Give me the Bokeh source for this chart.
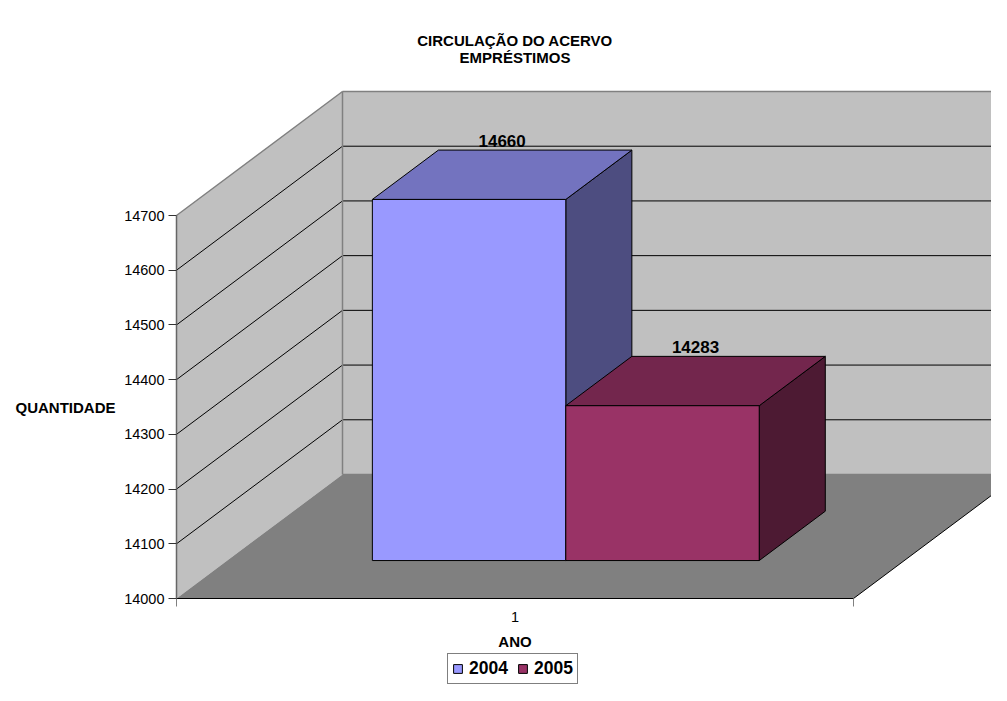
from bokeh.plotting import figure
from bokeh.models import Range1d, FixedTicker, Legend, LegendItem, Label
from bokeh.core.properties import value
from bokeh.embed import file_html
from bokeh.resources import INLINE

# ---------------- data ----------------
TITLE_LINES = ["CIRCULAÇÃO DO ACERVO", "EMPRÉSTIMOS"]
CATEGORIES = ["1"]
SERIES = ["2004", "2005"]
VALUES = [14660, 14283]
Y_TICKS = [14000, 14100, 14200, 14300, 14400, 14500, 14600, 14700]
Y_LABEL = "QUANTIDADE"
X_LABEL = "ANO"

# ---------------- style ----------------
FRONT = ["#9999FF", "#993366"]
TOP = ["#7373BF", "#73264D"]
SIDE = ["#4D4D80", "#4D1A33"]
WALL = "#C0C0C0"
FLOOR = "#808080"
EDGE = "#808080"
FONT = "Liberation Sans"

# ---------------- geometry ----------------
W, H = 991, 685           # canvas (= frame)
ORG_X, ORG_Y = 176, 598   # screen position of (category 0, value 14000)
PX_U = 677.0              # pixels per category width
PX_V = 383.0 / 700.0      # pixels per value unit
DX = 166.0 / PX_U         # depth offset in x units
DY = 124.0 / PX_V         # depth offset in value units
D0, D1 = 0.306, 0.704     # bar depth (fraction of box depth)
GAP = 1.5                 # gap width (Excel 150%)
BASE = Y_TICKS[0]
TOPV = Y_TICKS[-1]


def U(px):   # screen x -> data x (for text placement)
    return (px - ORG_X) / PX_U


def V(py):   # screen y -> data y (for text placement)
    return BASE + (ORG_Y - py) / PX_V


p = figure(frame_width=W, frame_height=H,
           min_border_left=0, min_border_right=0, min_border_top=0, min_border_bottom=0,
           x_range=Range1d(U(0), U(W)), y_range=Range1d(V(H), V(0)),
           output_backend="svg", toolbar_location=None, title=None)
p.outline_line_color = None
p.xgrid.visible = False
p.ygrid.visible = False
p.background_fill_color = "white"
p.border_fill_color = "white"

# walls and floor
p.patches(xs=[[0, 0, DX, DX],
              [DX, DX, 1 + DX, 1 + DX],
              [0, 1, 1 + DX, DX]],
          ys=[[BASE, TOPV, TOPV + DY, BASE + DY],
              [BASE + DY, TOPV + DY, TOPV + DY, BASE + DY],
              [BASE, BASE, BASE + DY, BASE + DY]],
          fill_color=[WALL, WALL, FLOOR], line_color=None)

# gridlines (left wall + back wall)
gv = Y_TICKS[1:-1]
p.segment(x0=[0] * len(gv), y0=gv, x1=[DX] * len(gv), y1=[v + DY for v in gv],
          line_color="black", line_width=1)
p.segment(x0=[DX] * len(gv), y0=[v + DY for v in gv], x1=[1 + DX] * len(gv),
          y1=[v + DY for v in gv], line_color="black", line_width=1)

# box edges
p.segment(x0=[0, DX, DX, DX], y0=[TOPV, BASE + DY, TOPV + DY, BASE + DY],
          x1=[DX, DX, 1 + DX, 1 + DX], y1=[TOPV + DY, TOPV + DY, TOPV + DY, BASE + DY],
          line_color=EDGE, line_width=1.5)
p.segment(x0=[1], y0=[BASE], x1=[1 + DX], y1=[BASE + DY], line_color="black", line_width=1)

# bars
n = len(SERIES)
w = 1.0 / (n + GAP)
front_renderers = []
lab_x, lab_y, lab_t = [], [], []
for i, (s, v) in enumerate(zip(SERIES, VALUES)):
    u0 = GAP * w / 2 + i * w
    u1 = u0 + w
    a0x, a0y = D0 * DX, D0 * DY
    a1x, a1y = D1 * DX, D1 * DY
    p.patch(x=[u1 + a0x, u1 + a0x, u1 + a1x, u1 + a1x],
            y=[BASE + a0y, v + a0y, v + a1y, BASE + a1y],
            fill_color=SIDE[i], line_color="black", line_width=1)
    p.patch(x=[u0 + a0x, u1 + a0x, u1 + a1x, u0 + a1x],
            y=[v + a0y, v + a0y, v + a1y, v + a1y],
            fill_color=TOP[i], line_color="black", line_width=1)
    r = p.patch(x=[u0 + a0x, u1 + a0x, u1 + a0x, u0 + a0x],
                y=[BASE + a0y, BASE + a0y, v + a0y, v + a0y],
                fill_color=FRONT[i], line_color="black", line_width=1)
    front_renderers.append(r)
    lab_x.append((u0 + u1) / 2 + (D0 + D1) / 2 * DX)
    lab_y.append(v + a1y + 9 / PX_V)
    lab_t.append(str(v))

p.text(x=lab_x, y=lab_y, text=lab_t, text_align="center", text_baseline="alphabetic",
       text_font=value(FONT), text_font_style="bold", text_font_size="17px",
       text_color="black")

# y axis, drawn at the front-left edge of the box
ya = p.yaxis[0]
ya.fixed_location = 0
ya.ticker = FixedTicker(ticks=Y_TICKS)
ya.bounds = (BASE, TOPV)
ya.axis_line_color = "#666666"
ya.axis_line_width = 1.5
ya.major_tick_out = 8
ya.major_tick_in = 0
ya.major_tick_line_color = "#333333"
ya.minor_tick_line_color = None
ya.major_label_standoff = 4
ya.major_label_text_font = FONT
ya.major_label_text_font_size = "14.5px"
ya.major_label_text_color = "black"

# x axis, drawn at the front edge of the floor
xa = p.xaxis[0]
xa.fixed_location = BASE
xa.ticker = FixedTicker(ticks=[0.5], minor_ticks=[0, 1])
xa.major_label_overrides = {0.5: CATEGORIES[0]}
xa.bounds = (0, 1)
xa.axis_line_color = "black"
xa.axis_line_width = 1
xa.major_tick_line_color = None
xa.major_tick_out = 0
xa.major_tick_in = 0
xa.minor_tick_out = 8
xa.minor_tick_in = 0
xa.minor_tick_line_color = "#808080"
xa.major_label_standoff = 5
xa.major_label_text_font = FONT
xa.major_label_text_font_size = "14.5px"
xa.major_label_text_color = "black"

# titles


def label(x, y, text, align="center", size="15px"):
    p.add_layout(Label(x=x, y=y, text=text, text_align=align, text_baseline="middle",
                       text_font=FONT, text_font_style="bold", text_font_size=size,
                       text_color="black"))


label(0.5, V(40), TITLE_LINES[0])
label(0.5, V(57), TITLE_LINES[1])
label(0.5, V(641), X_LABEL)
label(U(15), (BASE + TOPV) / 2, Y_LABEL, align="left")

# legend
legend = Legend(items=[LegendItem(label=s, renderers=[r]) for s, r in zip(SERIES, front_renderers)],
                orientation="horizontal", location=(447, 1),
                label_text_font=FONT, label_text_font_style="bold", label_text_font_size="17.5px",
                label_text_color="black",
                glyph_width=11, glyph_height=11, label_standoff=6, spacing=9, padding=4,
                label_height=16, margin=0, border_line_color="black", border_line_width=1,
                background_fill_color="white", background_fill_alpha=1.0)
p.add_layout(legend)

open("out.html", "w").write(file_html(p, INLINE))
